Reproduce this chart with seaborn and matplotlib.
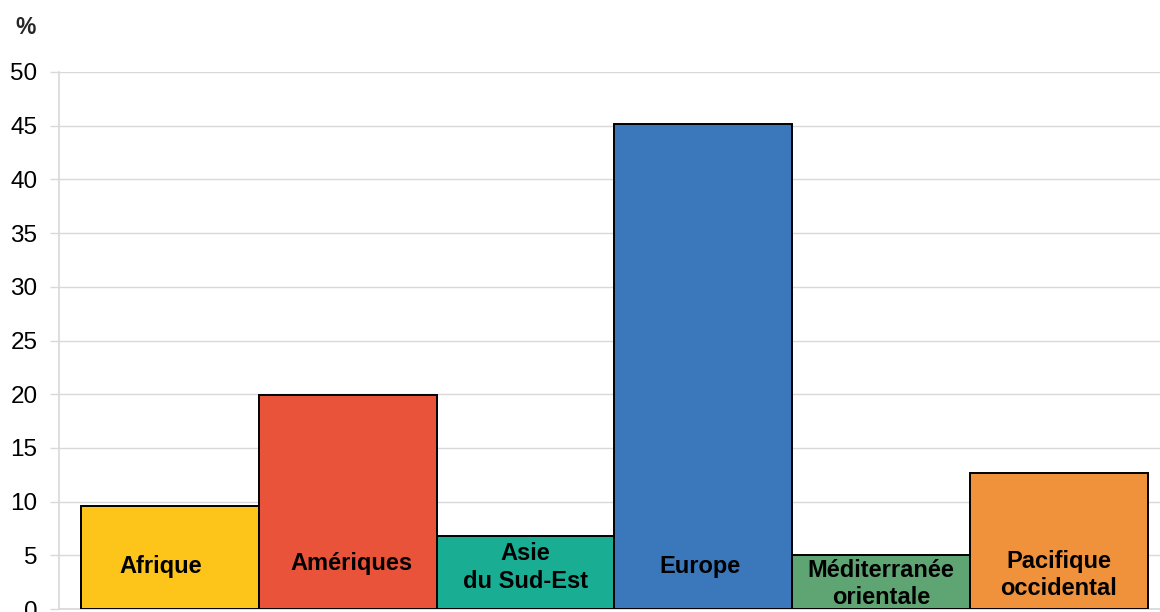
import matplotlib
matplotlib.use("Agg")
import matplotlib.pyplot as plt
import seaborn as sns
import pandas as pd

# Regional shares (%)
regions = ["Afrique", "Amériques", "Asie\ndu Sud-Est", "Europe",
           "Méditerranée\norientale", "Pacifique\noccidental"]
shares = [9.6, 19.9, 6.8, 45.2, 5.0, 12.7]
colors = ["#FDC51A", "#E8533A", "#19AD93", "#3B78BB", "#5FA473", "#F0913B"]
y_ticks = [0, 5, 10, 15, 20, 25, 30, 35, 40, 45, 50]

# placement of in-bar labels (category offset, data units)
label_dx = [-0.05, 0.02, 0.0, -0.02, 0.0, 0.0]
label_y = [4.0, 4.2, 3.85, 4.0, 2.35, 3.15]

sns.set_theme(style="white")
plt.rcParams["font.family"] = ["Liberation Sans", "DejaVu Sans"]

df = pd.DataFrame({"region": regions, "share": shares})

fig = plt.figure(figsize=(11.6, 6.12), dpi=100)
ax = fig.add_axes([59 / 1160, 3 / 612, 1 - 59 / 1160, (609 - 72) / 612])

sns.barplot(data=df, x="region", y="share", hue="region",
            palette=dict(zip(regions, colors)), width=1.0,
            edgecolor="black", linewidth=1.4, legend=False, ax=ax,
            zorder=3, saturation=1)

ax.set_ylim(0, 50)
ax.set_xlim(-0.624, 5.57)
ax.set_yticks(y_ticks)
ax.set_yticklabels([str(t) for t in y_ticks], fontsize=17.5, color="black")
ax.tick_params(axis="y", length=6.5, width=1, color="#d9d9d9", pad=9, left=True)
ax.tick_params(axis="x", bottom=False, labelbottom=False)
ax.set_xlabel("")
ax.set_ylabel("")
ax.grid(axis="y", color="#d9d9d9", linewidth=1, zorder=0)
ax.set_axisbelow(True)
for side in ["top", "right"]:
    ax.spines[side].set_visible(False)
ax.spines["left"].set_color("#d9d9d9")
ax.spines["bottom"].set_color("#d9d9d9")

for i, (name, dx, y) in enumerate(zip(regions, label_dx, label_y)):
    ax.text(i + dx, y, name, ha="center", va="center", fontsize=17,
            fontweight="bold", color="black", linespacing=1.25, zorder=5)

fig.text(26 / 1160, 1 - 27 / 612, "%", ha="center", va="center",
         fontsize=16.5, fontweight="bold")

fig.savefig("out.png", dpi=100)
